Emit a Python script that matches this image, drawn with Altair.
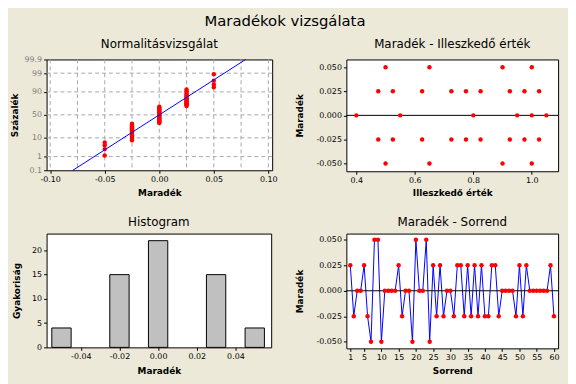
import altair as alt
import pandas as pd
from statistics import NormalDist

# ---------------- data ----------------
order_index = list(range(1, 61))
order_residuals = [0.025, -0.025, 0.0, 0.0, 0.025, -0.025, -0.05, 0.05, 0.05, -0.05,
                   0.0, 0.0, 0.0, 0.0, 0.025, -0.025, 0.0, 0.0, -0.05, 0.05,
                   0.0, 0.0, 0.05, -0.05, 0.025, -0.025, 0.025, -0.025, 0.0, 0.0,
                   -0.025, 0.025, 0.025, -0.025, 0.025, -0.025, 0.025, -0.025, 0.025, -0.025,
                   -0.025, 0.025, 0.025, -0.025, 0.0, 0.0, 0.0, 0.0, -0.025, 0.025,
                   -0.025, 0.025, 0.0, 0.0, 0.0, 0.0, 0.0, 0.0, 0.025, -0.025]

fitted_values = [0.50, 0.65, 0.90, 1.00,
                 0.475, 0.525, 0.625, 0.725, 0.775, 0.825, 0.925, 0.975, 1.025,
                 0.40, 0.55, 0.80, 0.95, 1.00, 1.05,
                 0.475, 0.525, 0.625, 0.725, 0.775, 0.825, 0.925, 0.975, 1.025,
                 0.50, 0.65, 0.90, 1.00]
fitted_residuals = [0.05, 0.05, 0.05, 0.05,
                    0.025, 0.025, 0.025, 0.025, 0.025, 0.025, 0.025, 0.025, 0.025,
                    0.0, 0.0, 0.0, 0.0, 0.0, 0.0,
                    -0.025, -0.025, -0.025, -0.025, -0.025, -0.025, -0.025, -0.025, -0.025,
                    -0.05, -0.05, -0.05, -0.05]

hist_centers = [-0.05, -0.02, 0.00, 0.03, 0.05]
hist_counts = [4, 15, 22, 15, 4]
hist_bin_width = 0.01

zero_line = [0.0]

prob_ticks = [0.1, 1, 10, 50, 90, 99, 99.9]
prob_tick_labels = ["0.1", "1", "10", "50", "90", "99", "99.9"]
prob_grid = [1, 10, 50, 90, 99]
norm_x_ticks = [-0.10, -0.05, 0.0, 0.05, 0.10]
norm_x_grid = [-0.10, -0.075, -0.05, -0.025, 0.0, 0.025, 0.05, 0.075, 0.10]
resid_ticks = [-0.05, -0.025, 0.0, 0.025, 0.05]
fitted_ticks = [0.4, 0.6, 0.8, 1.0]
hist_x_ticks = [-0.04, -0.02, 0.0, 0.02, 0.04]
hist_y_ticks = [0, 5, 10, 15, 20]
order_ticks = [1, 5, 10, 15, 20, 25, 30, 35, 40, 45, 50, 55, 60]

# ---------------- frames ----------------
resid_df = pd.DataFrame({"order": order_index, "resid": order_residuals})
fit_df = pd.DataFrame({"fitted": fitted_values, "resid": fitted_residuals})
hist_df = pd.DataFrame({"center": hist_centers, "count": hist_counts})
hist_df["lo"] = hist_df["center"] - hist_bin_width / 2
hist_df["hi"] = hist_df["center"] + hist_bin_width / 2
zero_df = pd.DataFrame({"zero": zero_line})
gridx_df = pd.DataFrame({"gx": norm_x_grid})
gridy_df = pd.DataFrame({"gp": prob_grid})

nd = NormalDist()
tick_z = [nd.inv_cdf(p / 100) for p in prob_ticks]
z_lo, z_hi = tick_z[0], tick_z[-1]
parts = []
for i in range(len(tick_z) - 1):
    mid = (tick_z[i] + tick_z[i + 1]) / 2
    parts.append(f"datum.value < {mid:.6f} ? '{prob_tick_labels[i]}' : ")
prob_label_expr = "".join(parts) + f"'{prob_tick_labels[-1]}'"

FONT = "DejaVu Sans"
RED = "#FF0000"
BLUE = "#0000FF"
GRID = "#A8A8A8"
MINUS = "replace(format(datum.value, '{f}'), '\u2212', '-')"


def ytitle_axis(title, values, label_expr, x, h, **kw):
    return alt.Axis(title=title, values=values, labelExpr=label_expr,
                    titleX=x, titleY=h / 2, titleAngle=270, titleAlign="center",
                    titleBaseline="alphabetic", **kw)


def xtitle_axis(title, values, label_expr, y, **kw):
    return alt.Axis(title=title, values=values, labelExpr=label_expr,
                    titleY=y, titleBaseline="alphabetic", **kw)


def ptitle(text, offset):
    return alt.TitleParams(text, font=FONT, fontSize=12, fontWeight="normal",
                           color="black", offset=offset, anchor="middle")


# ---------------- normal probability plot ----------------
W1, H1 = 228, 112
sx_norm = alt.Scale(domain=[-0.1033, 0.1035], nice=False, zero=False)
sy_norm = alt.Scale(domain=[z_lo, z_hi], nice=False, zero=False)
ax_x_norm = xtitle_axis("Maradék", norm_x_ticks, MINUS.format(f=".2f"), 26)
ax_y_norm = ytitle_axis("Százalék", tick_z, prob_label_expr, -29, H1, labelColor="#808080")

grid_x = alt.Chart(gridx_df).mark_rule(color=GRID, strokeDash=[4, 3], strokeWidth=1).encode(
    x=alt.X("gx:Q", scale=sx_norm, axis=ax_x_norm))
grid_y = alt.Chart(gridy_df).transform_calculate(
    gz="quantileNormal(datum.gp / 100)"
).mark_rule(color=GRID, strokeDash=[4, 3], strokeWidth=1).encode(
    y=alt.Y("gz:Q", scale=sy_norm, axis=ax_y_norm))
norm_line = alt.Chart(resid_df).transform_aggregate(
    m="mean(resid)", s="stdev(resid)"
).transform_calculate(
    zlo=f"{z_lo}", zhi=f"{z_hi}",
    xlo=f"datum.m + datum.s * ({z_lo})", xhi=f"datum.m + datum.s * ({z_hi})"
).mark_rule(color=BLUE, strokeWidth=1).encode(
    x=alt.X("xlo:Q", scale=sx_norm, axis=ax_x_norm), x2="xhi:Q",
    y=alt.Y("zlo:Q", scale=sy_norm, axis=ax_y_norm), y2="zhi:Q"
)
norm_pts = alt.Chart(resid_df).transform_window(
    rank="row_number()", sort=[alt.SortField("resid", order="ascending")]
).transform_joinaggregate(n="count()").transform_calculate(
    z="quantileNormal((datum.rank - 0.3) / (datum.n + 0.4))"
).mark_circle(color=RED, size=20, opacity=1).encode(
    x=alt.X("resid:Q", scale=sx_norm, axis=ax_x_norm),
    y=alt.Y("z:Q", scale=sy_norm, axis=ax_y_norm))

tl = alt.layer(grid_x, grid_y, norm_pts, norm_line).properties(
    width=W1, height=H1, title=ptitle("Normalitásvizsgálat", 5))

# ---------------- residual vs fitted ----------------
W2, H2 = 214, 113
x_fit = alt.X("fitted:Q", scale=alt.Scale(domain=[0.366, 1.09], nice=False, zero=False),
              axis=xtitle_axis("Illeszkedő érték", fitted_ticks, "format(datum.value, '.1f')", 25))
sy_res2 = alt.Scale(domain=[-0.058, 0.058], nice=False, zero=False)
ax_res2 = ytitle_axis("Maradék", resid_ticks, MINUS.format(f=".3f"), -44, H2)
fit_zero = alt.Chart(zero_df).mark_rule(color="black", strokeWidth=1).encode(
    y=alt.Y("zero:Q", scale=sy_res2, axis=ax_res2))
fit_pts = alt.Chart(fit_df).mark_circle(color=RED, size=20, opacity=1).encode(
    x=x_fit, y=alt.Y("resid:Q", scale=sy_res2, axis=ax_res2))
tr = alt.layer(fit_zero, fit_pts).properties(
    width=W2, height=H2, title=ptitle("Maradék - Illeszkedő érték", 9))

# ---------------- histogram ----------------
W3, H3 = 227, 115
x_hist = alt.X("lo:Q", scale=alt.Scale(domain=[-0.0577, 0.0585], nice=False, zero=False),
               axis=xtitle_axis("Maradék", hist_x_ticks, MINUS.format(f=".2f"), 26))
y_hist = alt.Y("count:Q", scale=alt.Scale(domain=[0, 23.46], nice=False),
               axis=ytitle_axis("Gyakoriság", hist_y_ticks, "format(datum.value, 'd')", -27, H3))
bl = alt.Chart(hist_df).mark_bar(color="#C0C0C0", stroke="black", strokeWidth=1).encode(
    x=x_hist, x2="hi:Q", y=y_hist, y2=alt.datum(0)
).properties(width=W3, height=H3, title=ptitle("Histogram", 5))

# ---------------- residual vs order ----------------
W4, H4 = 214, 116
sx_ord = alt.Scale(domain=[-0.14, 61.2], nice=False, zero=False)
ax_ord = xtitle_axis("Sorrend", order_ticks, "format(datum.value, 'd')", 25)
sy_res4 = alt.Scale(domain=[-0.0565, 0.0561], nice=False, zero=False)
ax_res4 = ytitle_axis("Maradék", resid_ticks, MINUS.format(f=".3f"), -44, H4)
ord_line = alt.Chart(resid_df).mark_line(color=BLUE, strokeWidth=1).encode(
    x=alt.X("order:Q", scale=sx_ord, axis=ax_ord),
    y=alt.Y("resid:Q", scale=sy_res4, axis=ax_res4))
ord_zero = alt.Chart(zero_df).mark_rule(color="black", strokeWidth=1).encode(
    y=alt.Y("zero:Q", scale=sy_res4, axis=ax_res4))
ord_pts = alt.Chart(resid_df).mark_circle(color=RED, size=20, opacity=1).encode(
    x=alt.X("order:Q", scale=sx_ord, axis=ax_ord),
    y=alt.Y("resid:Q", scale=sy_res4, axis=ax_res4))
br = alt.layer(ord_line, ord_zero, ord_pts).properties(
    width=W4, height=H4, title=ptitle("Maradék - Sorrend", 5))

chart = alt.concat(
    tl, tr, bl, br, columns=2, spacing={"row": 63, "column": 75}, bounds="flush", align="each"
).properties(
    title=alt.TitleParams("Maradékok vizsgálata", font=FONT, fontSize=15, fontWeight="normal",
                          color="black", anchor="middle", offset=8),
    padding={"left": 2, "top": 4, "right": 8, "bottom": 6},
).configure(
    background="#ECE9D8", font=FONT
).configure_view(
    fill="white", stroke="black", strokeWidth=1
).configure_axis(
    domain=False, ticks=True, tickSize=3, tickColor="black", tickWidth=1,
    labelFont=FONT, labelFontSize=8, labelColor="black", labelPadding=2,
    titleFont=FONT, titleFontSize=9, titleFontWeight="bold", titleColor="black",
    grid=False
)

chart.save("out.html", embed_options={"renderer": "svg", "actions": False})
